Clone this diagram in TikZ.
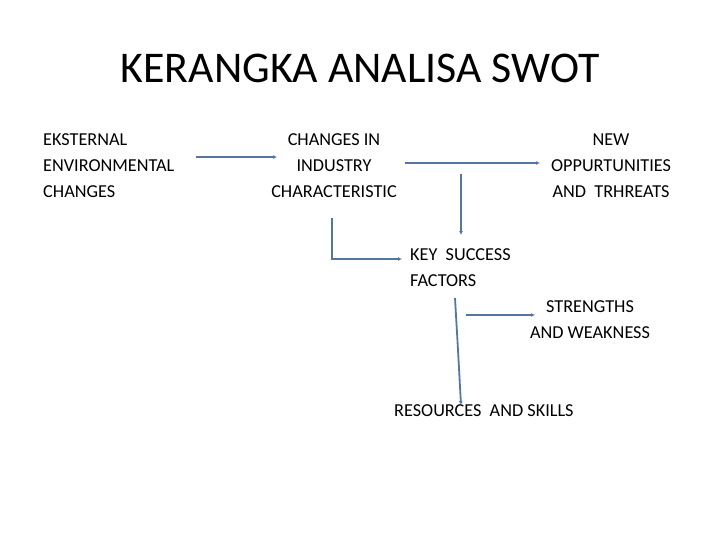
\documentclass[tikz,border=0pt]{standalone}
\usepackage{fontspec}
\setmainfont{Carlito}
\usetikzlibrary{arrows.meta}
\definecolor{lnc}{RGB}{84,118,160}
\begin{document}
\begin{tikzpicture}[x=1bp,y=-1bp,
  lbl/.style={inner sep=0pt,font=\fontsize{18.3}{26}\selectfont,align=center},
  lbll/.style={inner sep=0pt,font=\fontsize{18.3}{26}\selectfont,align=left,anchor=west},
  conn/.style={draw=lnc,line width=1.8pt,-{Latex[length=4pt,width=4pt]}},
  seg/.style={draw=lnc,line width=1.8pt}]
\useasboundingbox (0,0) rectangle (720,540);
\node[inner sep=0pt,font=\fontsize{44}{50}\selectfont] (title) at (360,68) {KERANGKA ANALISA SWOT};
\node[lbll] (ext) at (43,166) {EKSTERNAL\\ENVIRONMENTAL\\CHANGES};
\node[lbl] (ind) at (334,166) {CHANGES IN\\INDUSTRY\\CHARACTERISTIC};
\node[lbl] (opp) at (611,166) {NEW\\OPPURTUNITIES\\AND\ \ TRHREATS};
\node[lbll] (ksf) at (410,268) {KEY\ \ SUCCESS\\FACTORS};
\node[lbl] (sw) at (590,320) {STRENGTHS\\AND WEAKNESS};
\node[lbll] (res) at (394,411) {RESOURCES\ \ AND SKILLS};
% connectors
\coordinate (a1) at (196,157); \coordinate (a2) at (277,157);
\draw[conn] (a1) -- (a2);
\coordinate (b1) at (405,163); \coordinate (b2) at (540,163);
\draw[conn] (b1) -- (b2);
\coordinate (c1) at (461,174); \coordinate (c2) at (461,235);
\draw[conn] (c1) -- (c2);
\coordinate (d1) at (332,218); \coordinate (d2) at (332,258);
\draw[seg] (d1) -- (d2);
\coordinate (e1) at (331,259); \coordinate (e2) at (402,259);
\draw[conn] (e1) -- (e2);
\coordinate (f1) at (455,298); \coordinate (f2) at (458,350); \coordinate (f3) at (461,405);
\draw[conn] (f1) -- (f2) -- (f3);
\coordinate (g1) at (466,315); \coordinate (g2) at (535,315);
\draw[conn] (g1) -- (g2);
\end{tikzpicture}
\end{document}
